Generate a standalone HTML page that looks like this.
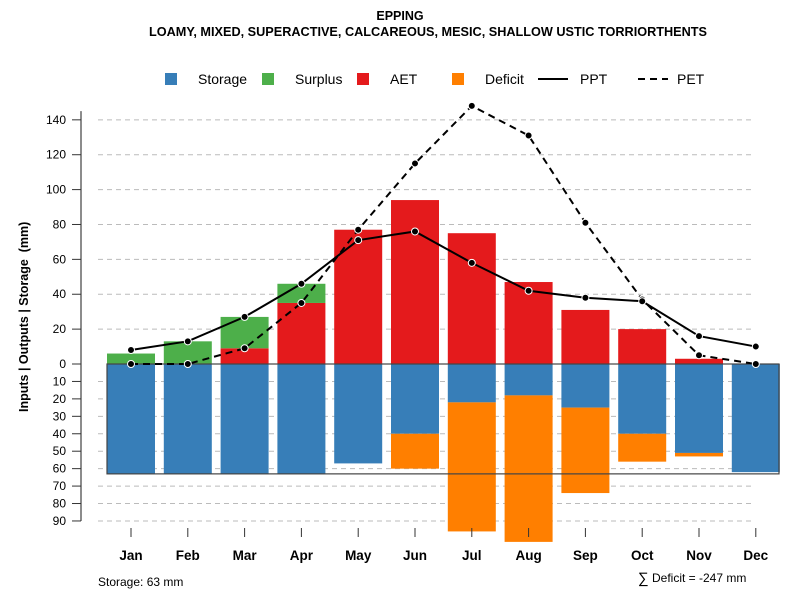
<!DOCTYPE html>
<html><head><meta charset="utf-8"><style>
body{margin:0;background:#fff}
svg{display:block;font-family:"Liberation Sans",Arial,sans-serif}
</style></head><body>
<svg id="c" width="800" height="600">
<text x="400" y="20" text-anchor="middle" font-size="12.5" font-weight="bold">EPPING</text>
<text x="428" y="36" text-anchor="middle" font-size="12.7" font-weight="bold">LOAMY, MIXED, SUPERACTIVE, CALCAREOUS, MESIC, SHALLOW USTIC TORRIORTHENTS</text>
<g id="legend"></g>
<g id="grid"></g><g id="bars"></g><g id="lines"></g><g id="axes"></g>
<text transform="translate(28,412) rotate(-90)" text-anchor="start" font-size="12.5" font-weight="bold">Inputs | Outputs | Storage</text>
<text transform="translate(28,237) rotate(-90)" text-anchor="middle" font-size="12.5" font-weight="bold">(mm)</text>
<text x="98" y="586" font-size="12">Storage: 63 mm</text>
<text x="638" y="583" font-size="15">∑</text>
<text x="652" y="582" font-size="12">Deficit = -247 mm</text>
</svg>
<script>
const months=["Jan","Feb","Mar","Apr","May","Jun","Jul","Aug","Sep","Oct","Nov","Dec"];
const storage=[63,63,63,63,57,40,22,18,25,40,51,62];
const deficit=[0,0,0,0,0,20,74,84,49,16,2,0];
const aet=[0,0,9,35,77,94,75,47,31,20,3,0];
const surplus=[6,13,18,11,0,0,0,0,0,0,0,0];
const ppt=[8,13,27,46,71,76,58,42,38,36,16,10];
const pet=[0,0,9,35,77,115,148,131,81,37,5,0];
const upTicks=[0,20,40,60,80,100,120,140];
const downTicks=[10,20,30,40,50,60,70,80,90];
const soilStorage=63;
const NS="http://www.w3.org/2000/svg";
const y0=364,k=1.744;
const Y=v=>y0-v*k;
const X=i=>131+i*56.8;
const bw=48;
function mk(p,t,a){const e=document.createElementNS(NS,t);for(const q in a)e.setAttribute(q,a[q]);document.getElementById(p).appendChild(e);return e;}
upTicks.forEach(t=>{if(t>0){const g=mk('grid','line',{x1:98,x2:755,y1:Y(t),y2:Y(t),stroke:'#bbb','stroke-dasharray':'5,4'});

}});
downTicks.forEach(t=>{const g=mk('grid','line',{x1:98,x2:755,y1:Y(-t),y2:Y(-t),stroke:'#bbb','stroke-dasharray':'5,4'});

});
months.forEach((m,i)=>{
 const x=X(i)-bw/2;
 let r=mk('bars','rect',{x:x,y:y0,width:bw,height:storage[i]*k,fill:'#377eb8'});
 
 
 if(deficit[i]>0){r=mk('bars','rect',{x:x,y:Y(-storage[i]),width:bw,height:deficit[i]*k,fill:'#ff7f00'});
 
 }
 if(aet[i]>0){r=mk('bars','rect',{x:x,y:Y(aet[i]),width:bw,height:aet[i]*k,fill:'#e41a1c'});
 
 }
 if(surplus[i]>0){r=mk('bars','rect',{x:x,y:Y(aet[i]+surplus[i]),width:bw,height:surplus[i]*k,fill:'#4daf4a'});
 
 }
});
let sb=mk('bars','rect',{x:107,y:y0,width:672,height:soilStorage*k,fill:'none',stroke:'#444','stroke-width':1.2});


function series(vals,dash,name){
 const pts=vals.map((v,i)=>X(i)+','+Y(v)).join(' ');
 const l=mk('lines','polyline',{points:pts,fill:'none',stroke:'#000','stroke-width':2,'stroke-dasharray':dash});
 
 
 vals.forEach((v,i)=>{const c=mk('lines','circle',{cx:X(i),cy:Y(v),r:3.5,fill:'#000',stroke:'#fff','stroke-width':1});
 
 });
}
series(pet,'7,5','pet');
series(ppt,'none','ppt');
let ax=mk('axes','line',{x1:81,x2:81,y1:Y(145),y2:Y(-90),stroke:'#666','stroke-width':1.5});


function tick(v,lab){mk('axes','line',{x1:72,x2:81,y1:Y(v),y2:Y(v),stroke:'#333'});
 const t=mk('axes','text',{x:66,y:Y(v)+4,'text-anchor':'end','font-size':12});t.textContent=lab;
 
 }
upTicks.forEach(t=>tick(t,t));
downTicks.forEach(t=>tick(-t,t));
months.forEach((m,i)=>{mk('axes','line',{x1:X(i),x2:X(i),y1:528,y2:537,stroke:'#333'});
 const t=mk('axes','text',{x:X(i),y:560,'text-anchor':'middle','font-size':13.5,'font-weight':'bold'});t.textContent=m;
 
 });
const legItems=[["Storage","#377eb8",165],["Surplus","#4daf4a",262],["AET","#e41a1c",357],["Deficit","#ff7f00",452]];
legItems.forEach(([n,c,x])=>{mk('legend','rect',{x:x,y:73,width:12,height:12,fill:c});
 const t=mk('legend','text',{x:x+33,y:84,'font-size':14});t.textContent=n;
 
 });
mk('legend','line',{x1:538,x2:568,y1:79,y2:79,stroke:'#000','stroke-width':2});
let t1=mk('legend','text',{x:580,y:84,'font-size':14});t1.textContent='PPT';


mk('legend','line',{x1:638,x2:668,y1:79,y2:79,stroke:'#000','stroke-width':2,'stroke-dasharray':'7,5'});
let t2=mk('legend','text',{x:677,y:84,'font-size':14});t2.textContent='PET';


</script>
</body></html>
